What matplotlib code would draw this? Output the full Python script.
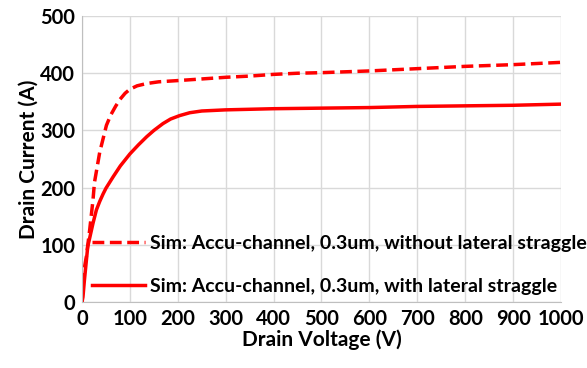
import numpy as np
import matplotlib
matplotlib.use('Agg')
import matplotlib.pyplot as plt

plt.rcParams['font.family'] = ['Lato', 'DejaVu Sans']
plt.rcParams['font.weight'] = 'bold'

# without lateral straggle (dashed)
v_dash = [0, 2, 5, 9, 16, 23, 26, 37, 51, 60, 70, 79, 90, 100, 115, 135, 160, 197,
          250, 302, 350, 400, 450, 500, 600, 700, 800, 900, 1000]
i_dash = [0, 38, 60, 79, 126, 179, 209, 262, 309, 327, 342, 354, 365, 372, 378, 382, 385, 387,
          390, 393, 395, 398, 400, 401, 404, 408, 412, 415, 419]

# with lateral straggle (solid)
v_solid = [0, 2, 5, 12, 23, 30, 37, 44, 50, 65, 80, 100, 118, 135, 150, 169, 185, 204, 225,
           250, 300, 400, 500, 600, 700, 800, 900, 1000]
i_solid = [0, 9, 38, 97, 138, 161, 176, 189, 199, 219, 238, 259, 275, 289, 300, 312, 320, 326, 331,
           334, 336, 338, 339, 340, 342, 343, 344, 346]

lbl_dash = 'Sim: Accu-channel, 0.3um, without lateral straggle'
lbl_solid = 'Sim: Accu-channel, 0.3um, with lateral straggle'

fig = plt.figure(figsize=(5.87, 3.68), dpi=100)
ax = fig.add_axes([0.1397, 0.179, 0.816, 0.7775])

ax.plot(v_dash, i_dash, color='#ff0000', lw=2.5, ls=(0, (3.4, 1.6)), label=lbl_dash)
ax.plot(v_solid, i_solid, color='#ff0000', lw=2.5, label=lbl_solid)

ax.set_xlim(0, 1000)
ax.set_ylim(0, 500)
ax.set_xticks(np.arange(0, 1001, 100))
ax.set_yticks(np.arange(0, 501, 100))
ax.grid(True, color='#d9d9d9', lw=1)
ax.set_axisbelow(True)
for s in ['top', 'right']:
    ax.spines[s].set_visible(False)
for s in ['left', 'bottom']:
    ax.spines[s].set_color('#bfbfbf')
ax.tick_params(length=0, labelsize=14.5, pad=5)
ax.set_xlabel('Drain Voltage (V)', fontsize=15, fontweight='bold', labelpad=0)
ax.set_ylabel('Drain Current (A)', fontsize=15, fontweight='bold', labelpad=1)

ax.legend(loc='lower left', bbox_to_anchor=(0.021, 0.025), frameon=False,
          fontsize=14, handlelength=2.7, handletextpad=0.26, labelspacing=1.35,
          borderpad=0, borderaxespad=0)

fig.savefig('out.png', dpi=100)
